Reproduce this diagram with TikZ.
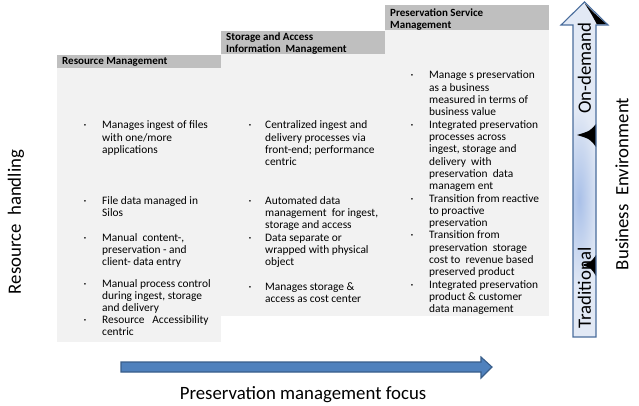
\documentclass[tikz,border=0pt]{standalone}
\usepackage{fontspec}
\setmainfont{Carlito}
\definecolor{hdrgray}{HTML}{BFBFBF}
\definecolor{bodygray}{HTML}{F2F2F2}
\definecolor{arrowblue}{HTML}{4F81BD}
\definecolor{arrowedge}{HTML}{385D8A}
\definecolor{shaftfill}{HTML}{E2E9F5}
\definecolor{shaftglow}{HTML}{A9C0E8}
\definecolor{shaftedge}{HTML}{4A6D9C}
% a block of lines whose baseline is that of its first line
\newcommand{\linesblock}[1]{\begin{tabular}[t]{@{}l@{}}#1\end{tabular}}
\begin{document}
\begin{tikzpicture}[x=1pt,y=-1pt,
  hdrtext/.style={anchor=base west,inner sep=0pt,
    font=\bfseries\fontsize{11}{11.6}\selectfont},
  itemtext/.style={anchor=base west,inner sep=0pt,
    font=\fontsize{11.4}{12.3}\selectfont},
  bullet/.style={anchor=base,inner sep=0pt,font=\fontsize{11.4}{12.3}\selectfont},
  axislabel/.style={inner sep=0pt,font=\fontsize{18.8}{20}\selectfont},
  blockarrow/.style={fill=arrowblue,draw=arrowedge,line width=1.1pt,line join=miter}]
\useasboundingbox (0,0) rectangle (639,406);

% staircase of the three management stages
\fill[bodygray] (57,68) rectangle (221,342);
\fill[bodygray] (221,54) rectangle (385,316);
\fill[bodygray] (385,30) rectangle (549,316);
\fill[hdrgray] (57,55) rectangle (221,68);
\fill[hdrgray] (221,31) rectangle (385,54);
\fill[hdrgray] (385,5) rectangle (549,30);

% stage headings
\node[hdrtext] (h1) at (62,65) {Resource Management};
\node[hdrtext] (h2) at (226,41) {\linesblock{Storage and Access\\Information~~Management}};
\node[hdrtext] (h3) at (390,16.5) {\linesblock{Preservation Service\\Management}};

% first stage
\node[bullet] (b11) at (85,129) {·};
\node[itemtext] (t11) at (102,129) {\linesblock{Manages ingest of files\\with one/more\\applications}};
\node[bullet] (b12) at (85,204) {·};
\node[itemtext] (t12) at (102,204) {\linesblock{File data managed in\\Silos}};
\node[bullet] (b13) at (85,241) {·};
\node[itemtext] (t13) at (102,241) {\linesblock{Manual~ content-,\\preservation - and\\client- data entry}};
\node[bullet] (b14) at (85,287) {·};
\node[itemtext] (t14) at (102,287) {\linesblock{Manual process control\\during ingest, storage\\and delivery}};
\node[bullet] (b15) at (85,323) {·};
\node[itemtext] (t15) at (102,323) {\linesblock{Resource~~ Accessibility\\centric}};

% second stage
\node[bullet] (b21) at (250,129) {·};
\node[itemtext] (t21) at (265,129) {\linesblock{Centralized ingest and\\delivery processes via\\front-end; performance\\centric}};
\node[bullet] (b22) at (250,204) {·};
\node[itemtext] (t22) at (265,204) {\linesblock{Automated data\\management~ for ingest,\\storage and access}};
\node[bullet] (b23) at (250,241) {·};
\node[itemtext] (t23) at (265,241) {\linesblock{Data separate or\\wrapped with physical\\object}};
\node[bullet] (b24) at (250,290) {·};
\node[itemtext] (t24) at (265,290) {\linesblock{Manages storage \&\\access as cost center}};

% third stage
\node[bullet] (b31) at (412,79) {·};
\node[itemtext] (t31) at (429,79) {\linesblock{Manage s preservation\\as a business\\measured in terms of\\business value}};
\node[bullet] (b32) at (412,128.2) {·};
\node[itemtext] (t32) at (429,128.2) {\linesblock{Integrated preservation\\processes across\\ingest, storage and\\delivery~ with\\preservation~ data\\managem ent}};
\node[bullet] (b33) at (412,202) {·};
\node[itemtext] (t33) at (429,202) {\linesblock{Transition from reactive\\to proactive\\preservation}};
\node[bullet] (b34) at (412,238.9) {·};
\node[itemtext] (t34) at (429,238.9) {\linesblock{Transition from\\preservation~ storage\\cost to~ revenue based\\preserved product}};
\node[bullet] (b35) at (412,288.1) {·};
\node[itemtext] (t35) at (429,288.1) {\linesblock{Integrated preservation\\product \& customer\\data management}};

% vertical axis label
\node[axislabel,rotate=90] (rh) at (16,222) {Resource~~handling};

% horizontal arrow and its label
\draw[blockarrow] (121,362) -- (481,362) -- (481,357) -- (492,367) -- (481,378)
  -- (481,372) -- (121,372) -- cycle;
\node[axislabel,anchor=base] (pm) at (303,399) {Preservation management focus};

% business environment arrow
\path[fill=shaftfill] (573,337) -- (573,25) -- (561,25) -- (584.5,2) -- (608,25)
  -- (596,25) -- (596,337) -- cycle;
\begin{scope}
  \clip (573,337) rectangle (596,25);
  \shade[inner color=shaftglow,outer color=shaftfill] (579,200) ellipse (20 and 90);
\end{scope}
\fill[black] (585,4) .. controls (594,13) .. (607,24.5) -- (597,24.5)
  .. controls (592,15) .. cycle;
\fill[black] (596,124) .. controls (590,131) .. (577,135)
  .. controls (590,139) .. (596,147) -- cycle;
\fill[black] (596,255) .. controls (591,262) .. (582,265)
  .. controls (591,268) .. (596,276) -- cycle;
\draw[shaftedge,line width=1.1pt,line join=miter] (573,337) -- (573,25) -- (561,25)
  -- (584.5,2) -- (608,25) -- (596,25) -- (596,337) -- cycle;
\node[axislabel,rotate=90] (od) at (584.5,68) {On-demand};
\node[axislabel,rotate=90] (tr) at (584.5,288) {Traditional};
\node[axislabel,rotate=90] (be) at (622,184) {Business~~Environment};
\end{tikzpicture}
\end{document}
